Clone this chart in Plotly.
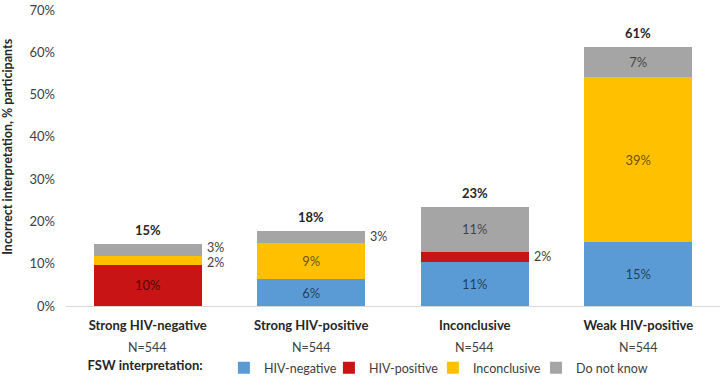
import plotly.graph_objects as go

categories = ["Strong HIV-negative", "Strong HIV-positive", "Inconclusive", "Weak HIV-positive"]
n_labels = ["N=544", "N=544", "N=544", "N=544"]

hiv_negative = [None, 6.3, 10.5, 15.1]
hiv_positive = [9.8, None, 2.2, None]
inconclusive = [2.1, 8.6, None, 39.0]
do_not_know = [2.8, 2.9, 10.8, 7.1]

lbl_negative = ["", "6%", "11%", "15%"]
lbl_positive = ["10%", "", "2%", ""]
lbl_inconclusive = ["2%", "9%", "", "39%"]
lbl_dnk = ["3%", "3%", "11%", "7%"]

totals = ["15%", "18%", "23%", "61%"]

y_ticks = [0, 10, 20, 30, 40, 50, 60, 70]
y_ticktext = ["0%", "10%", "20%", "30%", "40%", "50%", "60%", "70%"]

series = [
    ("HIV-negative", hiv_negative, lbl_negative, "#5B9BD5"),
    ("HIV-positive", hiv_positive, lbl_positive, "#C81414"),
    ("Inconclusive", inconclusive, lbl_inconclusive, "#FFC000"),
    ("Do not know", do_not_know, lbl_dnk, "#A5A5A5"),
]

FONT = "Lato"
SMALL = 4.0  # segments smaller than this get their label outside
BAR_W = 0.66
PX_PER_UNIT = 299 / 70.0
LEGEND_IDS = ["legend", "legend2", "legend3", "legend4"]
LEGEND_X = [0.03, 0.402, 0.561, 0.7187]
LEGEND_Y = -0.21

xs = list(range(len(categories)))
fig = go.Figure()
annotations = []
for k, (name, vals, lbls, col) in enumerate(series):
    inside = [l if (v is not None and v >= SMALL) else "" for v, l in zip(vals, lbls)]
    fig.add_trace(go.Bar(
        name=name, x=xs, y=vals, marker=dict(color=col, line=dict(width=0)),
        width=BAR_W, text=inside, textposition="inside", insidetextanchor="middle",
        textfont=dict(family=FONT, size=13, color="rgba(0,0,0,0.62)"),
        hoverinfo="skip", legend=LEGEND_IDS[k],
    ))

# outside labels for small segments, placed right of bar
base = [0.0] * len(categories)
outside = {i: [] for i in xs}
for name, vals, lbls, col in series:
    for i, (v, l) in enumerate(zip(vals, lbls)):
        if v is None:
            continue
        if v < SMALL and l:
            outside[i].append([base[i] + v / 2, l, 0])
        base[i] += v
for i, items in outside.items():
    for a, b in zip(items, items[1:]):
        gap = (b[0] - a[0]) * PX_PER_UNIT
        if gap < 15:
            push = (15 - gap) / 2
            a[2] -= push
            b[2] += push
    for yv, l, sh in items:
        annotations.append(dict(x=i + BAR_W / 2, y=yv, xref="x", yref="y",
                                text=l, showarrow=False, xanchor="left", xshift=4,
                                yanchor="middle", yshift=sh, borderpad=0,
                                font=dict(family=FONT, size=12.5, color="#404040")))

for i, t in enumerate(totals):
    annotations.append(dict(x=i, y=base[i], xref="x", yref="y", text="<b>" + t + "</b>",
                            showarrow=False, yanchor="bottom", yshift=4,
                            font=dict(family=FONT, size=13, color="#262626")))

for i, n in enumerate(n_labels):
    annotations.append(dict(x=i, y=-0.14, xref="x", yref="paper", text=n,
                            showarrow=False, yanchor="middle",
                            font=dict(family=FONT, size=12.5, color="#404040")))

annotations.append(dict(x=-0.0887, y=0.538, xref="paper", yref="paper",
                        xanchor="center", yanchor="middle",
                        text="<b>Incorrect interpretation, % participants</b>", textangle=-90,
                        showarrow=False, font=dict(family=FONT, size=12.5, color="#262626")))

legend_common = dict(orientation="h", xanchor="left", y=LEGEND_Y, yanchor="middle",
                     font=dict(family=FONT, size=12.5, color="#404040"),
                     itemwidth=30, bgcolor="rgba(0,0,0,0)")
legends = {}
for k, lid in enumerate(LEGEND_IDS):
    d = dict(legend_common, x=LEGEND_X[k])
    if k == 0:
        d["title"] = dict(text="<b>FSW interpretation:</b>\u00a0\u00a0\u00a0\u00a0", side="left",
                          font=dict(family=FONT, size=13, color="#262626"))
    legends[lid] = d

fig.update_layout(
    barmode="stack",
    width=722, height=385,
    margin=dict(l=66, r=2, t=8, b=78),
    paper_bgcolor="white", plot_bgcolor="white",
    font=dict(family=FONT, size=13, color="#404040"),
    xaxis=dict(range=[-0.5, 3.5], tickvals=xs,
               ticktext=["<b>" + c + "</b>" for c in categories],
               tickfont=dict(family=FONT, size=13, color="#262626"),
               showline=True, linecolor="#D9D9D9", linewidth=1, ticks="", showgrid=False,
               zeroline=False, fixedrange=True, ticklabelstandoff=7),
    yaxis=dict(range=[0, 70], tickvals=y_ticks, ticktext=y_ticktext, showgrid=False,
               zeroline=False, showline=False, ticks="", ticklabelstandoff=10,
               ticklabeloverflow="allow",
               tickfont=dict(family=FONT, size=13, color="#404040")),
    showlegend=True,
    annotations=annotations,
    **legends,
)

fig.write_html("out.html", config={"displayModeBar": False},
               post_script="document.body.style.margin='0';")
